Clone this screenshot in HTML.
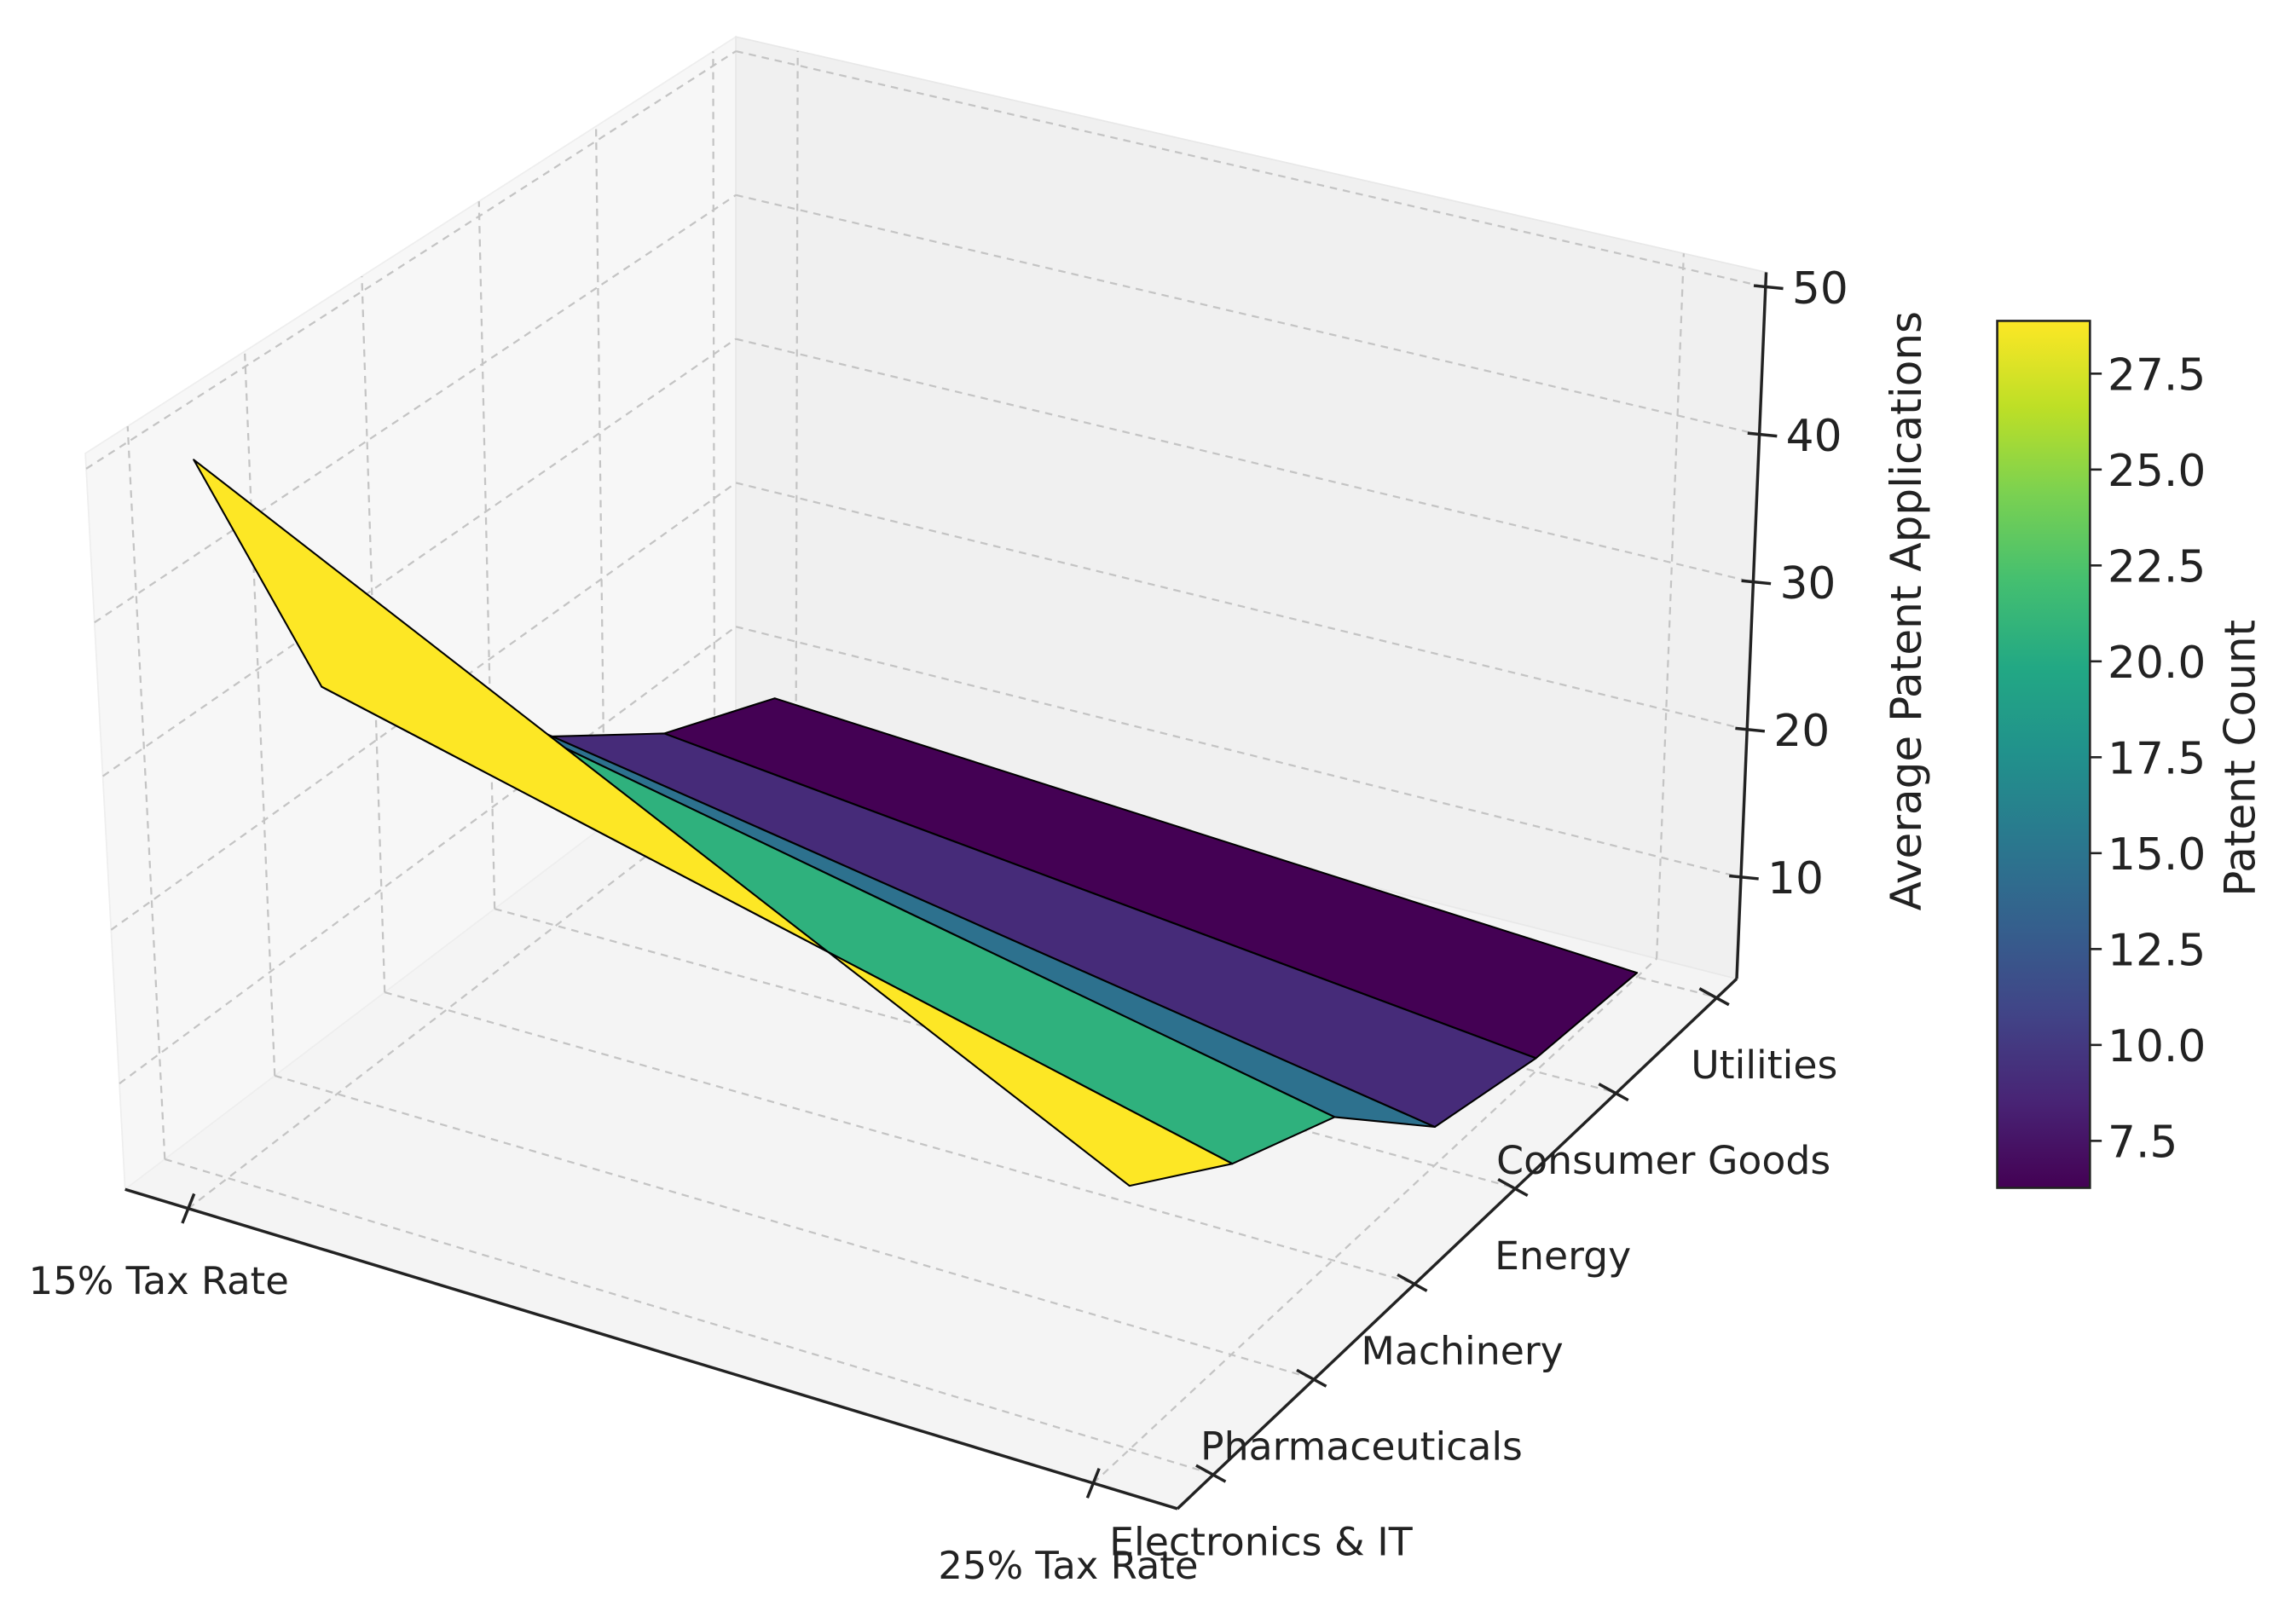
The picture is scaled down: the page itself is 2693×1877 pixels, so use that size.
<!DOCTYPE html>
<html><head><meta charset="utf-8"><style>
html,body{margin:0;padding:0;background:#fff;}
svg{display:block;font-family:"DejaVu Sans","Liberation Sans",sans-serif;}
</style></head><body>
<svg id="chart" width="2693" height="1877" viewBox="0 0 1560 1087" preserveAspectRatio="none" xmlns="http://www.w3.org/2000/svg">
<defs>
<linearGradient id="vir" x1="0" y1="1" x2="0" y2="0">
<stop offset="0" stop-color="#440154"/><stop offset="0.1" stop-color="#482475"/><stop offset="0.2" stop-color="#414487"/><stop offset="0.3" stop-color="#355f8d"/><stop offset="0.4" stop-color="#2a788e"/><stop offset="0.5" stop-color="#21918c"/><stop offset="0.6" stop-color="#22a884"/><stop offset="0.7" stop-color="#44bf70"/><stop offset="0.8" stop-color="#7ad151"/><stop offset="0.9" stop-color="#bddf26"/><stop offset="1" stop-color="#fde725"/>
</linearGradient>
</defs>
<g id="panes"></g><g id="grid"></g><g id="surface"></g><g id="axes"></g><g id="cbar"></g>
</svg>
<script>
const xCats = ['15% Tax Rate', '25% Tax Rate'];
const xVals = [15, 25];
const yCats = ['Electronics & IT', 'Pharmaceuticals', 'Machinery', 'Energy', 'Consumer Goods', 'Utilities'];
const z15 = [50, 30, 24.7, 15.9, 10.5, 7.2];
const z25 = [20, 15.5, 12.5, 5.7, 4, 3.4];
const zTicks = [10, 20, 30, 40, 50];
const cbTicks = [7.5, 10.0, 12.5, 15.0, 17.5, 20.0, 22.5, 25.0, 27.5];

const NS = 'http://www.w3.org/2000/svg';
const L = [85, 808], F = [800, 1025], R = [1180, 665], B = [500, 493];
const HL = [-27, -500], HF = [0, -510], HR = [20, -480], HB = [0, -468];
const zMin = 3.12, zMax = 51;
function uOf(x) { return 0.06 + 0.86 * (x - 15) / 10; }
function vOf(j) { return 0.065 + 0.18 * j; }
function wOf(z) { return (z - zMin) / (zMax - zMin); }
function bil(P, Q, S, T, u, v) {
  const a = (1 - u) * (1 - v), b = u * (1 - v), c = u * v, d = (1 - u) * v;
  return [a * P[0] + b * Q[0] + c * S[0] + d * T[0], a * P[1] + b * Q[1] + c * S[1] + d * T[1]];
}
function proj(u, v, w) {
  const f = bil(L, F, R, B, u, v), h = bil(HL, HF, HR, HB, u, v);
  return [f[0] + w * h[0], f[1] + w * h[1]];
}
function el(tag, attrs, parent) {
  const e = document.createElementNS(NS, tag);
  for (const k in attrs) e.setAttribute(k, attrs[k]);
  parent.appendChild(e); return e;
}
function pts(a) { return a.map(p => p[0].toFixed(1) + ',' + p[1].toFixed(1)).join(' '); }
const gP = document.getElementById('panes'), gG = document.getElementById('grid'),
      gS = document.getElementById('surface'), gA = document.getElementById('axes'), gC = document.getElementById('cbar');

let p = el('polygon', {points: pts([proj(0,0,0),proj(1,0,0),proj(1,1,0),proj(0,1,0)]), fill: '#f4f4f4', stroke: '#f4f4f4'}, gP);
 
p = el('polygon', {points: pts([proj(0,0,0),proj(0,1,0),proj(0,1,1),proj(0,0,1)]), fill: '#f7f7f7', stroke: '#eeeeee'}, gP);
 
p = el('polygon', {points: pts([proj(0,1,0),proj(1,1,0),proj(1,1,1),proj(0,1,1)]), fill: '#f0f0f0', stroke: '#e8e8e8'}, gP);
 

function gl(a, b, name) {
  const l = el('line', {x1: a[0], y1: a[1], x2: b[0], y2: b[1], stroke: '#c4c4c4', 'stroke-width': 1.3, 'stroke-dasharray': '5,4'}, gG);
   
}
yCats.forEach((c, j) => {
  const v = vOf(j);
  gl(proj(0, v, 0), proj(1, v, 0), 'floor-gridline-y');
  gl(proj(0, v, 0), proj(0, v, 1), 'left-wall-gridline-y');
});
xVals.forEach(x => {
  const u = uOf(x);
  gl(proj(u, 0, 0), proj(u, 1, 0), 'floor-gridline-x');
  gl(proj(u, 1, 0), proj(u, 1, 1), 'back-wall-gridline-x');
});
zTicks.forEach(z => {
  const w = wOf(z);
  gl(proj(0, 0, w), proj(0, 1, w), 'left-wall-gridline-z');
  gl(proj(0, 1, w), proj(1, 1, w), 'back-wall-gridline-z');
});

const vstops = ['#440154','#482475','#414487','#355f8d','#2a788e','#21918c','#22a884','#44bf70','#7ad151','#bddf26','#fde725'];
function hex(h) { return [1,3,5].map(i => parseInt(h.substr(i, 2), 16)); }
function viridis(t) {
  t = Math.max(0, Math.min(1, t)) * 10; const i = Math.min(9, Math.floor(t)), f = t - i;
  const a = hex(vstops[i]), b = hex(vstops[i + 1]);
  return 'rgb(' + a.map((c, k) => Math.round(c + (b[k] - c) * f)).join(',') + ')';
}
const avgs = [];
for (let j = 0; j < yCats.length - 1; j++) avgs.push((z15[j] + z25[j] + z15[j + 1] + z25[j + 1]) / 4);
const cMin = Math.min(...avgs), cMax = Math.max(...avgs);
const u0 = uOf(xVals[0]), u1 = uOf(xVals[1]);
for (let j = yCats.length - 2; j >= 0; j--) {
  const q = [proj(u0, vOf(j), wOf(z15[j])), proj(u1, vOf(j), wOf(z25[j])), proj(u1, vOf(j + 1), wOf(z25[j + 1])), proj(u0, vOf(j + 1), wOf(z15[j + 1]))];
  const f = el('polygon', {points: pts(q), fill: viridis((avgs[j] - cMin) / (cMax - cMin)), stroke: '#000', 'stroke-width': 1.2, 'stroke-linejoin': 'round'}, gS);
  
  
}

function ln(a, b, name, w) {
  const l = el('line', {x1: a[0], y1: a[1], x2: b[0], y2: b[1], stroke: '#222', 'stroke-width': w || 2}, gA);
   
}
function tx(x, y, s, size, anchor, name, rot) {
  const t = el('text', {x: x, y: y, 'font-size': size, fill: '#222', 'text-anchor': anchor || 'start'}, gA);
  if (rot) t.setAttribute('transform', 'rotate(' + rot + ' ' + x + ' ' + y + ')');
  t.textContent = s;
   
  return t;
}
ln(proj(0, 0, 0), proj(1, 0, 0), 'x-axis-line');
ln(proj(1, 0, 0), proj(1, 1, 0), 'y-axis-line');
ln(proj(1, 1, 0), proj(1, 1, 1), 'z-axis-line');
xVals.forEach((x, i) => {
  const a = proj(uOf(x), 0, 0);
  ln([a[0] + 4, a[1] - 10], [a[0] - 4, a[1] + 10], 'x-tick');
  const lx = i === 0 ? a[0] - 20 : a[0] - 17, ly = i === 0 ? a[1] + 58 : a[1] + 65;
  tx(lx, ly, xCats[i], 26, 'middle', 'x-tick-label');
});
yCats.forEach((c, j) => {
  const a = proj(1, vOf(j), 0);
  ln([a[0] - 12, a[1] - 6], [a[0] + 8, a[1] + 5], 'y-tick');
  tx(a[0] + 32, a[1] + 55, c, 26.5, 'middle', 'y-tick-label');
});
zTicks.forEach(z => {
  const a = proj(1, 1, wOf(z));
  ln([a[0] - 8, a[1] - 1], [a[0] + 12, a[1] + 1], 'z-tick');
  tx(a[0] + 18, a[1] + 11, String(z), 30, 'start', 'z-tick-label');
});
tx(1305, 415, 'Average Patent Applications', 29, 'middle', 'z-axis-title', -90);

const cbX = 1357, cbW = 63, cbTop = 218, cbBot = 807;
const cb = el('rect', {x: cbX, y: cbTop, width: cbW, height: cbBot - cbTop, fill: 'url(#vir)', stroke: '#222', 'stroke-width': 1.5}, gC);
 
function cbY(v) { return cbBot - (v - cMin) / (cMax - cMin) * (cbBot - cbTop); }
cbTicks.forEach(v => {
  const y = cbY(v);
  const l = el('line', {x1: cbX + cbW, y1: y, x2: cbX + cbW + 8, y2: y, stroke: '#222', 'stroke-width': 1.5}, gC);
   
  const t = el('text', {x: cbX + cbW + 12, y: y + 11, 'font-size': 30, fill: '#222'}, gC);
  t.textContent = v.toFixed(1);
   
});
const ct = el('text', {x: 1532, y: 515, 'font-size': 29, fill: '#222', 'text-anchor': 'middle', transform: 'rotate(-90 1532 515)'}, gC);
ct.textContent = 'Patent Count';
 
</script>
</body></html>
